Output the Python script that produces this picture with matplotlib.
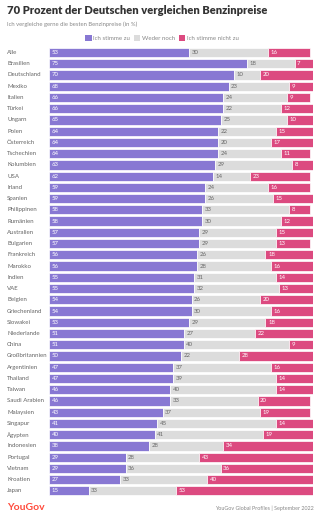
import matplotlib.pyplot as plt
from matplotlib.patches import Patch

PURPLE = "#8878d3"
GREY = "#dcdcdc"
PINK = "#dc4a80"

countries = ["Alle", "Brasilien", "Deutschland", "Mexiko", "Italien", "Türkei", "Ungarn",
             "Polen", "Österreich", "Tschechien", "Kolumbien", "USA", "Irland", "Spanien",
             "Philippinen", "Rumänien", "Australien", "Bulgarien", "Frankreich", "Marokko",
             "Indien", "VAE", "Belgien", "Griechenland", "Slowakei", "Niederlande", "China",
             "Großbritannien", "Argentinien", "Thailand", "Taiwan", "Saudi Arabien",
             "Malaysien", "Singapur", "Ägypten", "Indonesien", "Portugal", "Vietnam",
             "Kroatien", "Japan"]
agree = [53, 75, 70, 68, 66, 66, 65, 64, 64, 64, 63, 62, 59, 59, 58, 58, 57, 57, 56, 56,
         55, 55, 54, 54, 53, 51, 51, 50, 47, 47, 46, 46, 43, 41, 40, 38, 29, 29, 27, 15]
neither = [30, 18, 10, 23, 24, 22, 25, 22, 20, 24, 29, 14, 24, 26, 33, 30, 29, 29, 26, 28,
           31, 32, 26, 30, 29, 27, 40, 22, 37, 39, 40, 33, 37, 45, 41, 28, 28, 36, 33, 33]
disagree = [16, 7, 20, 9, 9, 12, 10, 15, 17, 11, 8, 23, 16, 15, 8, 12, 15, 13, 18, 16,
            14, 13, 20, 16, 18, 22, 9, 28, 16, 14, 14, 20, 19, 14, 19, 34, 43, 36, 40, 53]
series_labels = ["Ich stimme zu", "Weder noch", "Ich stimme nicht zu"]

W, H = 322, 519
fig = plt.figure(figsize=(W / 100, H / 100), dpi=100)
plt.rcParams['font.family'] = ['Lato', 'DejaVu Sans']

row_h = 11.24
top = 52.5 - row_h / 2
bottom = top + row_h * len(countries)
ax = fig.add_axes([49 / W, 1 - bottom / H, 264 / W, (bottom - top) / H])

y = range(len(countries))
left2 = [a for a in agree]
left3 = [a + n for a, n in zip(agree, neither)]
ax.barh(y, agree, height=0.82, color=PURPLE, edgecolor="white", linewidth=0.5)
ax.barh(y, neither, left=left2, height=0.82, color=GREY, edgecolor="white", linewidth=0.5)
ax.barh(y, disagree, left=left3, height=0.82, color=PINK, edgecolor="white", linewidth=0.5)

for i in y:
    ax.text(1.0, i, str(agree[i]), color="white", fontsize=4.3, va="center", ha="left")
    ax.text(left2[i] + 1.0, i, str(neither[i]), color="#666666", fontsize=4.3, va="center", ha="left")
    ax.text(left3[i] + 1.0, i, str(disagree[i]), color="white", fontsize=4.3, va="center", ha="left")
    fig.text(7 / W, 1 - (52.5 + i * row_h) / H, countries[i], color="#666666",
             fontsize=4.4, va="center", ha="left")

ax.set_xlim(0, 100)
ax.set_ylim(len(countries) - 0.5, -0.5)
ax.axis("off")

fig.text(7 / W, 1 - 10 / H, "70 Prozent der Deutschen vergleichen Benzinpreise",
         fontsize=8.0, fontweight="heavy", color="#333333", va="center", ha="left")
fig.text(7 / W, 1 - 24.5 / H, "Ich vergleiche gerne die besten Benzinpreise (in %)",
         fontsize=4.2, color="#888888", va="center", ha="left")

handles = [Patch(facecolor=c, edgecolor="none") for c in (PURPLE, GREY, PINK)]
fig.legend(handles, series_labels, loc="center", bbox_to_anchor=(162 / W, 1 - 38 / H),
           ncol=3, frameon=False, fontsize=4.4, handlelength=1.0, handleheight=1.0,
           handletextpad=0.3, columnspacing=0.6, labelcolor="#888888")

fig.text(7 / W, 1 - 508 / H, "YouGov", fontsize=7.5, fontweight="bold",
         color="#ff4b3c", va="center", ha="left")
fig.text(314 / W, 1 - 508 / H, "YouGov Global Profiles | September 2022",
         fontsize=3.9, color="#888888", va="center", ha="right")

fig.savefig("out.png", dpi=100, facecolor="white")
